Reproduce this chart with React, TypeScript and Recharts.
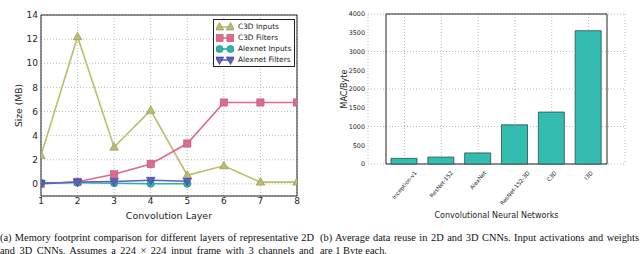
import React from 'react';
import {
  LineChart,
  Line,
  BarChart,
  Bar,
  XAxis,
  YAxis,
  CartesianGrid,
  ReferenceArea,
  Legend,
  Label,
} from 'recharts';

// (a) memory footprint per convolution layer, MB
const layers = [1, 2, 3, 4, 5, 6, 7, 8];
const c3dInputs = [2.35, 12.2, 3.05, 6.1, 0.72, 1.5, 0.15, 0.15];
const c3dFilters = [0.0, 0.18, 0.8, 1.65, 3.35, 6.75, 6.75, 6.75];
const alexnetInputs = [0.1, 0.1, 0.06, 0.01, 0.01, null, null, null];
const alexnetFilters = [0.03, 0.16, 0.2, 0.3, 0.22, null, null, null];
const sizeTicks = [0, 2, 4, 6, 8, 10, 12, 14];

// (b) average data reuse, MAC/Byte
const networks = ['Inception-v1', 'ResNet-152', 'AlexNet', 'ResNet-152-3D', 'C3D', 'I3D'];
const macPerByte = [150, 185, 295, 1045, 1385, 3555];
const macTicks = [0, 500, 1000, 1500, 2000, 2500, 3000, 3500, 4000];

const SANS = '"DejaVu Sans", sans-serif';
const SERIF = '"Liberation Serif", "Times New Roman", serif';
const INK = '#222';
const GRID = '#b2bccc';

const lineSeries = [
  { key: 'c3dInputs', name: 'C3D Inputs', color: '#bdbd6c', edge: '#8c8c55', marker: 'triUp' },
  { key: 'c3dFilters', name: 'C3D Filters', color: '#e2688c', edge: '#a85a74', marker: 'square' },
  { key: 'alexnetInputs', name: 'Alexnet Inputs', color: '#2eb3a7', edge: '#237f77', marker: 'circle' },
  { key: 'alexnetFilters', name: 'Alexnet Filters', color: '#5a5ec6', edge: '#3a3d8c', marker: 'triDown' },
];

const layerRows = layers.map((layer, i) => ({
  layer,
  c3dInputs: c3dInputs[i],
  c3dFilters: c3dFilters[i],
  alexnetInputs: alexnetInputs[i],
  alexnetFilters: alexnetFilters[i],
}));

const networkRows = networks.map((network, i) => ({ network, mac: macPerByte[i] }));

function MarkerShape({ kind, x, y, fill, edge }: any) {
  if (kind === 'triUp')
    return <polygon points={`${x},${y - 4.5} ${x - 4.3},${y + 3} ${x + 4.3},${y + 3}`} fill={fill} stroke={edge} strokeWidth={0.6} />;
  if (kind === 'triDown')
    return <polygon points={`${x},${y + 4.5} ${x - 4.3},${y - 3} ${x + 4.3},${y - 3}`} fill={fill} stroke={edge} strokeWidth={0.6} />;
  if (kind === 'square')
    return <rect x={x - 3.6} y={y - 3.6} width={7.2} height={7.2} fill={fill} stroke={edge} strokeWidth={0.6} />;
  return <circle cx={x} cy={y} r={3.6} fill={fill} stroke={edge} strokeWidth={0.6} />;
}

const makeDot = (s: any) => (props: any) => {
  const { cx, cy, value, index } = props;
  if (value == null || cx == null || cy == null) return <g key={index} />;
  return <MarkerShape key={index} kind={s.marker} x={cx} y={cy} fill={s.color} edge={s.edge} />;
};

function LegendBox() {
  return (
    <div
      style={{
        border: `1px solid ${INK}`,
        background: '#fff',
        padding: '1px 3px 1px 2px',
        fontFamily: SANS,
        fontSize: 7.4,
        color: INK,
        whiteSpace: 'nowrap',
        display: 'inline-block',
      }}
    >
      {lineSeries.map((s) => (
        <div key={s.key} style={{ display: 'flex', alignItems: 'center', height: 11 }}>
          <svg width={18} height={10} style={{ marginRight: 4, flex: 'none' }}>
            <line x1={3} y1={5} x2={15} y2={5} stroke={s.color} strokeWidth={1.6} />
            <MarkerShape kind={s.marker} x={3.5} y={5} fill={s.color} edge={s.edge} />
            <MarkerShape kind={s.marker} x={14.5} y={5} fill={s.color} edge={s.edge} />
          </svg>
          <span>{s.name}</span>
        </div>
      ))}
    </div>
  );
}

let measureCtx: CanvasRenderingContext2D | null = null;
function textWidth(text: string, font: string) {
  if (!measureCtx) measureCtx = document.createElement('canvas').getContext('2d');
  if (!measureCtx) return text.length * 3;
  measureCtx.font = font;
  return measureCtx.measureText(text).width;
}

// rotated labels, centred under the bar like matplotlib's ha='center'
function NetworkTick({ x, y, payload }: any) {
  const fs = 5.6;
  const rad = (50 * Math.PI) / 180;
  const w = textWidth(payload.value, `${fs}px "DejaVu Sans"`);
  const boxH = w * Math.sin(rad) + fs * Math.cos(rad);
  const cy = y + 6 + boxH / 2;
  return (
    <text
      x={x}
      y={cy}
      transform={`rotate(-50 ${x} ${cy})`}
      textAnchor="middle"
      dominantBaseline="central"
      fontSize={fs}
      fontFamily={SANS}
      fill={INK}
    >
      {payload.value}
    </text>
  );
}

function MemoryChart() {
  return (
    <LineChart width={320} height={225} data={layerRows} margin={{ top: 15, right: 23, bottom: 0, left: 0 }}>
      <CartesianGrid stroke={GRID} strokeDasharray="1 2" />
      <XAxis
        dataKey="layer"
        type="number"
        domain={[1, 8]}
        ticks={layers}
        allowDataOverflow
        tickLine={false}
        axisLine={false}
        tickSize={0}
        tickMargin={2}
        height={29}
        tick={{ fontSize: 9, fill: INK, fontFamily: SANS }}
      >
        <Label value="Convolution Layer" position="insideBottom" offset={6} fontSize={9.5} fill={INK} fontFamily={SANS} />
      </XAxis>
      <YAxis
        type="number"
        domain={[-1, 14]}
        ticks={sizeTicks}
        allowDataOverflow
        tickLine={false}
        axisLine={false}
        tickSize={0}
        tickMargin={3}
        width={41}
        tick={{ fontSize: 9, fill: INK, fontFamily: SANS }}
      >
        <Label
          value="Size (MB)"
          angle={-90}
          position="insideLeft"
          offset={19}
          fontSize={9.2}
          fill={INK}
          fontFamily={SANS}
          style={{ textAnchor: 'middle' }}
        />
      </YAxis>
      <ReferenceArea y1={-1} y2={14} fill="none" stroke={INK} strokeWidth={1} />
      {lineSeries.map((s) => (
        <Line
          key={s.key}
          type="linear"
          dataKey={s.key}
          name={s.name}
          stroke={s.color}
          strokeWidth={1.6}
          dot={makeDot(s)}
          activeDot={false}
          connectNulls={false}
          isAnimationActive={false}
        />
      ))}
      <Legend
        layout="vertical"
        align="center"
        verticalAlign="middle"
        content={() => <LegendBox />}
        wrapperStyle={{ left: 213, top: 19, width: 'auto', height: 'auto' }}
      />
    </LineChart>
  );
}

function ReuseChart() {
  return (
    <BarChart width={320} height={225} data={networkRows} margin={{ top: 14, right: 15, bottom: 0, left: 0 }}>
      <CartesianGrid stroke={GRID} strokeDasharray="1 2" />
      <XAxis
        dataKey="network"
        padding={{ left: 18, right: 18 }}
        tickLine={false}
        axisLine={false}
        tickSize={0}
        tickMargin={0}
        height={61}
        interval={0}
        tick={<NetworkTick />}
      >
        <Label value="Convolutional Neural Networks" position="insideBottom" offset={7} fontSize={8} fill={INK} fontFamily={SANS} />
      </XAxis>
      <YAxis
        type="number"
        domain={[0, 4000]}
        ticks={macTicks}
        tickLine={false}
        axisLine={false}
        tickSize={0}
        tickMargin={3}
        width={48}
        tick={{ fontSize: 6.4, fill: INK, fontFamily: SANS }}
      >
        <Label
          value="MAC/Byte"
          angle={-90}
          position="insideLeft"
          offset={24}
          fontSize={8}
          fill={INK}
          fontFamily={SANS}
          style={{ textAnchor: 'middle' }}
        />
      </YAxis>
      <Bar dataKey="mac" fill="#35bcb0" stroke="#2a4f4b" strokeWidth={0.8} barSize={26} isAnimationActive={false} />
      <ReferenceArea y1={0} y2={4000} fill="none" stroke={INK} strokeWidth={1} />
    </BarChart>
  );
}

const captionLine: React.CSSProperties = {
  height: 12.5,
  lineHeight: '12.5px',
  whiteSpace: 'nowrap',
  textAlign: 'justify',
  textAlignLast: 'justify',
};

export default function App() {
  return (
    <div
      style={{
        position: 'fixed',
        left: 0,
        top: 0,
        width: 640,
        height: 254,
        overflow: 'hidden',
        background: '#fff',
        fontFamily: SERIF,
        fontSize: 10.4,
        color: '#111',
      }}
    >
      <div style={{ position: 'absolute', left: 0, top: 0 }}>
        <MemoryChart />
      </div>
      <div style={{ position: 'absolute', left: 320, top: 0 }}>
        <ReuseChart />
      </div>
      <div style={{ position: 'absolute', left: 0, top: 232, width: 314 }}>
        <div style={captionLine}>(a) Memory footprint comparison for different layers of representative 2D</div>
        <div style={captionLine}>and 3D CNNs. Assumes a 224 × 224 input frame with 3 channels and</div>
      </div>
      <div style={{ position: 'absolute', left: 320, top: 232, width: 319 }}>
        <div style={captionLine}>(b) Average data reuse in 2D and 3D CNNs. Input activations and weights</div>
        <div style={{ ...captionLine, textAlignLast: 'left' }}>are 1 Byte each.</div>
      </div>
    </div>
  );
}
